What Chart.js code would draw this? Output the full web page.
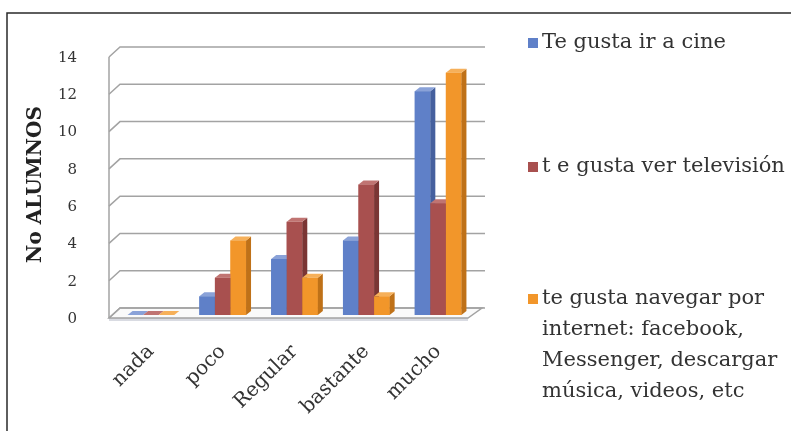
<!DOCTYPE html>
<html lang="es">
<head>
<meta charset="UTF-8">
<title>Gustos de los alumnos</title>
<script src="https://cdn.jsdelivr.net/npm/chart.js@4"></script>
<style>
  html, body { margin: 0; padding: 0; background: #fff; }
  #grafico { display: block; }
</style>
</head>
<body>
<canvas id="grafico" width="791" height="431"></canvas>
<script>
// datos de la encuesta
const categorias = ['nada', 'poco', 'Regular', 'bastante', 'mucho'];
const cine = [0, 1, 3, 4, 12];
const television = [0, 2, 5, 7, 6];
const internet = [0, 4, 2, 1, 13];
const ejeY = { min: 0, max: 14, paso: 2 };

// textos de la leyenda (líneas ya cortadas)
const leyendas = [
    ['Te gusta ir a cine'],
    ['t e gusta ver televisión'],
    ['te gusta navegar por', 'internet: facebook,', 'Messenger, descargar', 'música, videos, etc']
];

// colores: frente, lado y tapa de cada serie
const colores = [
    { frente: '#5F80C8', lado: '#45609E', tapa: '#8AA2D8' },
    { frente: '#A8504F', lado: '#7A3534', tapa: '#C07472' },
    { frente: '#F2962A', lado: '#BF7118', tapa: '#F6B05A' }
];

const fuente = 'DejaVu Serif';
Chart.defaults.font.family = fuente;
Chart.defaults.color = '#333';

// desplazamientos de la perspectiva
const FRENTE = { x: -6, y: 3 };
const FONDO = { x: 5, y: -7 };
const PROF = { x: 5, y: -4 };

function poligono(ctx, pts, relleno, trazo) {
    ctx.beginPath();
    ctx.moveTo(pts[0][0], pts[0][1]);
    for (let i = 1; i < pts.length; i++) ctx.lineTo(pts[i][0], pts[i][1]);
    ctx.closePath();
    if (relleno) { ctx.fillStyle = relleno; ctx.fill(); }
    if (trazo) { ctx.strokeStyle = trazo; ctx.stroke(); }
}

// paredes, suelo y rejilla en falso 3D
const paredes = {
    id: 'paredes',
    beforeDraw(chart) {
        const ctx = chart.ctx;
        ctx.save();
        ctx.strokeStyle = '#2a2a2a';
        ctx.lineWidth = 1.5;
        ctx.beginPath();
        ctx.moveTo(7, 431);
        ctx.lineTo(7, 13);
        ctx.lineTo(791, 13);
        ctx.stroke();
        ctx.restore();
    },
    beforeDatasetsDraw(chart) {
        const ctx = chart.ctx;
        const L = chart.chartArea.left, R = chart.chartArea.right;
        const ys = chart.scales.y;
        const y0 = ys.getPixelForValue(0);
        const yMax = ys.getPixelForValue(ejeY.max);
        ctx.save();
        ctx.lineWidth = 1.5;

        // suelo
        ctx.fillStyle = '#d9dbe2';
        ctx.fillRect(L + FRENTE.x, y0 + FRENTE.y, R - L, 3);
        poligono(ctx, [
            [L + FRENTE.x, y0 + FRENTE.y], [R + FRENTE.x, y0 + FRENTE.y],
            [R + FONDO.x + 3, y0 + FONDO.y], [L + FONDO.x, y0 + FONDO.y]
        ], '#fafafa', '#a3a3a3');

        // líneas de la rejilla: pared lateral y pared del fondo
        ctx.strokeStyle = '#a3a3a3';
        for (let v = ejeY.min; v <= ejeY.max; v += ejeY.paso) {
            const y = ys.getPixelForValue(v);
            ctx.beginPath();
            ctx.moveTo(L + FRENTE.x, y + FRENTE.y);
            ctx.lineTo(L + FONDO.x, y + FONDO.y);
            ctx.lineTo(R + FONDO.x + 6, y + FONDO.y);
            ctx.stroke();
        }
        ctx.beginPath();
        ctx.moveTo(L + FRENTE.x, yMax + FRENTE.y);
        ctx.lineTo(L + FRENTE.x, y0 + FRENTE.y);
        ctx.stroke();
        ctx.restore();
    },
    afterDatasetsDraw(chart) {
        // caras laterales y tapas de las barras, categoría por categoría
        const ctx = chart.ctx;
        ctx.save();
        for (let i = 0; i < categorias.length; i++) {
            chart.data.datasets.forEach((ds, d) => {
                const el = chart.getDatasetMeta(d).data[i];
                const p = el.getProps(['x', 'y', 'base', 'width'], true);
                const l = p.x - p.width / 2, r = p.x + p.width / 2;
                const c = colores[d];
                ctx.fillStyle = c.frente;
                ctx.fillRect(l, p.y, p.width, p.base - p.y);
                poligono(ctx, [[r, p.y], [r + PROF.x, p.y + PROF.y], [r + PROF.x, p.base + PROF.y], [r, p.base]], c.lado);
                poligono(ctx, [[l, p.y], [l + PROF.x, p.y + PROF.y], [r + PROF.x, p.y + PROF.y], [r, p.y]], c.tapa);
            });
        }
        ctx.restore();
    },
    afterDraw(chart) {
        // leyenda a la derecha
        const ctx = chart.ctx;
        const posiciones = [43, 167, 299];
        ctx.save();
        ctx.font = '21px "' + fuente + '"';
        ctx.textBaseline = 'middle';
        leyendas.forEach((lineas, k) => {
            const y = posiciones[k];
            ctx.fillStyle = colores[k].frente;
            ctx.fillRect(528, y - 5, 10, 10);
            ctx.fillStyle = '#333';
            lineas.forEach((t, j) => ctx.fillText(t, 542, y + j * 31));
        });
        ctx.restore();
    }
};

const series = [cine, television, internet];
new Chart(document.getElementById('grafico'), {
    type: 'bar',
    data: {
        labels: categorias,
        datasets: series.map((datos, d) => ({
            label: leyendas[d].join(' '),
            data: datos,
            backgroundColor: colores[d].frente,
            borderWidth: 0,
            categoryPercentage: 0.65,
            barPercentage: 1
        }))
    },
    options: {
        responsive: false,
        animation: false,
        layout: { padding: { top: 54, right: 317, left: 0, bottom: 0 } },
        plugins: {
            legend: { display: false },
            tooltip: { enabled: false }
        },
        scales: {
            x: {
                grid: { display: false },
                border: { display: false },
                ticks: {
                    minRotation: 45,
                    maxRotation: 45,
                    padding: 17,
                    color: '#333',
                    font: { size: 20 }
                },
                afterFit: s => { s.height = 116; }
            },
            y: {
                min: ejeY.min,
                max: ejeY.max,
                grid: { display: false, drawTicks: false },
                border: { display: false },
                ticks: {
                    stepSize: ejeY.paso,
                    padding: 38,
                    labelOffset: 4,
                    color: '#333',
                    font: { size: 15 }
                },
                title: {
                    display: true,
                    text: 'No ALUMNOS',
                    color: '#222',
                    font: { size: 20, weight: 'bold' },
                    padding: { top: 24, bottom: 0 }
                },
                afterFit: s => { s.width = 115; }
            }
        }
    },
    plugins: [paredes]
});
</script>
</body>
</html>
